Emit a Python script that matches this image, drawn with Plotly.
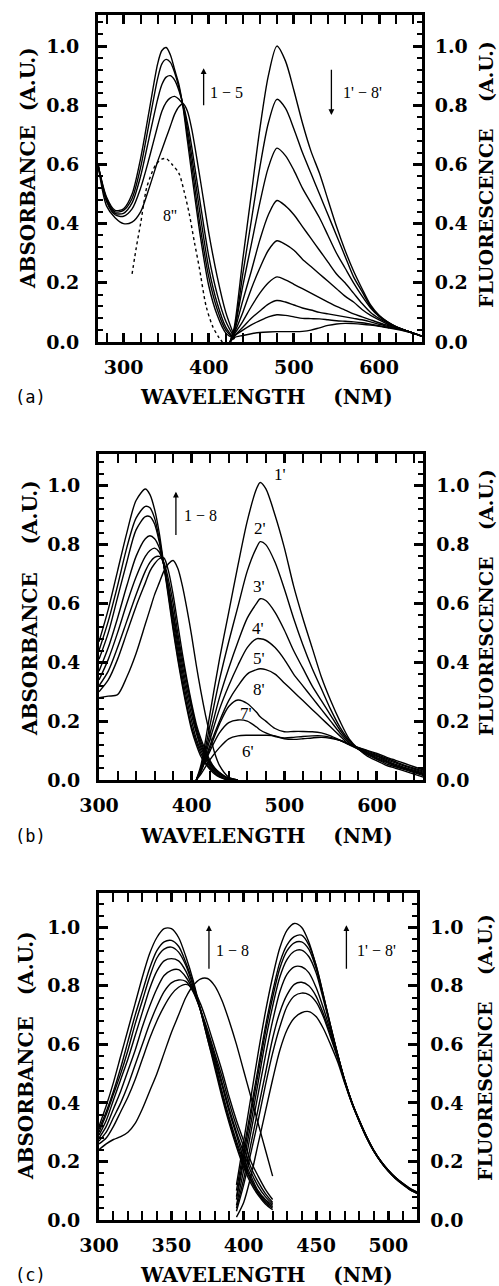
import plotly.graph_objects as go

W, H = 499, 1286

# ---------------- Panel (a) data ----------------
A_ABS_X = [270, 280, 290, 300, 310, 320, 330, 340, 345, 350, 355, 360, 365, 370, 375, 380, 390, 400, 410, 420, 430]
A_ABS_1 = [0.60, 0.49, 0.445, 0.45, 0.50, 0.62, 0.78, 0.94, 0.985, 0.995, 0.97, 0.92, 0.87, 0.79, 0.68, 0.57, 0.36, 0.19, 0.09, 0.03, 0.01]
A_ABS_2 = [0.60, 0.485, 0.44, 0.445, 0.485, 0.59, 0.74, 0.89, 0.94, 0.955, 0.945, 0.91, 0.86, 0.795, 0.70, 0.60, 0.39, 0.22, 0.11, 0.04, 0.01]
A_ABS_3 = [0.60, 0.48, 0.435, 0.435, 0.47, 0.56, 0.69, 0.82, 0.87, 0.895, 0.90, 0.885, 0.85, 0.80, 0.72, 0.63, 0.43, 0.25, 0.13, 0.05, 0.01]
A_ABS_4 = [0.60, 0.475, 0.43, 0.425, 0.45, 0.52, 0.62, 0.73, 0.78, 0.81, 0.825, 0.83, 0.82, 0.80, 0.74, 0.66, 0.47, 0.29, 0.16, 0.07, 0.015]
A_ABS_5 = [0.60, 0.46, 0.42, 0.40, 0.405, 0.44, 0.52, 0.61, 0.65, 0.69, 0.73, 0.77, 0.795, 0.805, 0.78, 0.72, 0.55, 0.37, 0.22, 0.10, 0.02]
A_DOT_X = [310, 315, 320, 327, 333, 338, 345, 350, 357, 365, 371, 377, 383, 389, 397, 405, 412, 416]
A_DOT_Y = [0.23, 0.32, 0.40, 0.52, 0.57, 0.60, 0.618, 0.62, 0.60, 0.57, 0.51, 0.435, 0.34, 0.25, 0.12, 0.05, 0.015, 0.0]

A_FL_X = [425, 430, 440, 450, 460, 470, 480, 490, 500, 510, 520, 530, 540, 550, 560, 570, 580, 590, 600, 610, 620, 630, 640, 650]
A_FL_1 = [0.0, 0.05, 0.28, 0.50, 0.72, 0.90, 1.0, 0.95, 0.85, 0.74, 0.645, 0.57, 0.48, 0.39, 0.31, 0.24, 0.18, 0.125, 0.09, 0.068, 0.052, 0.04, 0.03, 0.02]
A_FL_2 = [0.0, 0.04, 0.23, 0.41, 0.59, 0.74, 0.82, 0.79, 0.72, 0.64, 0.57, 0.50, 0.43, 0.36, 0.29, 0.22, 0.17, 0.12, 0.088, 0.067, 0.051, 0.04, 0.03, 0.02]
A_FL_3 = [0.0, 0.04, 0.19, 0.33, 0.47, 0.59, 0.655, 0.63, 0.58, 0.52, 0.47, 0.42, 0.36, 0.30, 0.25, 0.20, 0.155, 0.115, 0.086, 0.066, 0.051, 0.04, 0.03, 0.02]
A_FL_4 = [0.0, 0.035, 0.14, 0.24, 0.345, 0.43, 0.478, 0.46, 0.43, 0.39, 0.35, 0.31, 0.27, 0.23, 0.20, 0.165, 0.13, 0.10, 0.08, 0.064, 0.051, 0.04, 0.03, 0.02]
A_FL_5 = [0.0, 0.03, 0.10, 0.18, 0.25, 0.31, 0.342, 0.33, 0.31, 0.28, 0.255, 0.23, 0.205, 0.18, 0.155, 0.135, 0.11, 0.09, 0.075, 0.06, 0.05, 0.04, 0.03, 0.02]
A_FL_6 = [0.0, 0.025, 0.07, 0.12, 0.165, 0.20, 0.22, 0.21, 0.195, 0.18, 0.165, 0.15, 0.135, 0.12, 0.108, 0.095, 0.085, 0.075, 0.065, 0.056, 0.048, 0.04, 0.03, 0.02]
A_FL_7 = [0.0, 0.02, 0.05, 0.08, 0.105, 0.128, 0.14, 0.135, 0.125, 0.115, 0.108, 0.10, 0.095, 0.09, 0.085, 0.08, 0.075, 0.068, 0.06, 0.053, 0.046, 0.04, 0.03, 0.02]
A_FL_8 = [0.0, 0.02, 0.04, 0.058, 0.072, 0.085, 0.092, 0.09, 0.085, 0.08, 0.079, 0.078, 0.075, 0.072, 0.07, 0.068, 0.065, 0.06, 0.055, 0.05, 0.045, 0.038, 0.03, 0.02]
A_FL_9 = [0.0, 0.015, 0.022, 0.028, 0.032, 0.034, 0.035, 0.035, 0.035, 0.036, 0.04, 0.048, 0.056, 0.061, 0.063, 0.062, 0.06, 0.057, 0.053, 0.048, 0.043, 0.037, 0.03, 0.02]

# ---------------- Panel (b) data ----------------
B_ABS_X = [300, 310, 320, 330, 340, 350, 355, 360, 365, 370, 375, 380, 385, 390, 395, 400, 405, 410, 415, 420, 425, 430, 440, 450]
B_ABS_1 = [0.47, 0.58, 0.71, 0.84, 0.95, 0.989, 0.97, 0.92, 0.84, 0.73, 0.62, 0.51, 0.41, 0.32, 0.24, 0.17, 0.12, 0.08, 0.055, 0.035, 0.02, 0.01, 0.0, 0.0]
B_ABS_2 = [0.44, 0.54, 0.66, 0.79, 0.89, 0.93, 0.925, 0.89, 0.82, 0.73, 0.63, 0.52, 0.42, 0.33, 0.25, 0.18, 0.13, 0.09, 0.06, 0.04, 0.025, 0.012, 0.0, 0.0]
B_ABS_3 = [0.41, 0.50, 0.62, 0.74, 0.85, 0.895, 0.895, 0.87, 0.81, 0.73, 0.64, 0.54, 0.44, 0.35, 0.27, 0.20, 0.14, 0.10, 0.07, 0.045, 0.03, 0.015, 0.0, 0.0]
B_ABS_4 = [0.37, 0.45, 0.55, 0.66, 0.76, 0.82, 0.83, 0.82, 0.79, 0.73, 0.65, 0.56, 0.46, 0.37, 0.29, 0.22, 0.16, 0.11, 0.08, 0.05, 0.035, 0.02, 0.005, 0.0]
B_ABS_5 = [0.34, 0.41, 0.50, 0.60, 0.69, 0.76, 0.78, 0.788, 0.775, 0.73, 0.66, 0.57, 0.48, 0.39, 0.31, 0.24, 0.17, 0.12, 0.085, 0.055, 0.035, 0.02, 0.005, 0.0]
B_ABS_6 = [0.32, 0.37, 0.45, 0.54, 0.63, 0.71, 0.74, 0.757, 0.76, 0.74, 0.68, 0.60, 0.50, 0.41, 0.33, 0.25, 0.18, 0.13, 0.09, 0.06, 0.04, 0.025, 0.005, 0.0]
B_ABS_7 = [0.30, 0.34, 0.41, 0.50, 0.59, 0.67, 0.71, 0.735, 0.752, 0.755, 0.71, 0.63, 0.53, 0.43, 0.34, 0.26, 0.19, 0.14, 0.10, 0.065, 0.04, 0.025, 0.005, 0.0]
B_ABS_8 = [0.28, 0.285, 0.29, 0.35, 0.43, 0.53, 0.58, 0.63, 0.67, 0.71, 0.735, 0.746, 0.72, 0.66, 0.58, 0.49, 0.39, 0.30, 0.22, 0.15, 0.09, 0.05, 0.01, 0.0]

B_FL_X = [405, 410, 420, 430, 440, 450, 460, 470, 474, 480, 490, 500, 510, 520, 530, 540, 550, 560, 570, 580, 590, 600, 610, 620, 630, 640, 650]
B_FL_1 = [0.0, 0.05, 0.23, 0.41, 0.57, 0.73, 0.88, 0.99, 1.011, 0.99, 0.90, 0.79, 0.66, 0.55, 0.45, 0.35, 0.27, 0.20, 0.14, 0.105, 0.08, 0.065, 0.05, 0.04, 0.03, 0.02, 0.01]
B_FL_2 = [0.0, 0.04, 0.19, 0.34, 0.47, 0.59, 0.71, 0.79, 0.81, 0.80, 0.74, 0.65, 0.55, 0.46, 0.38, 0.31, 0.24, 0.18, 0.135, 0.105, 0.085, 0.07, 0.055, 0.045, 0.035, 0.025, 0.015]
B_FL_3 = [0.0, 0.04, 0.16, 0.28, 0.38, 0.47, 0.55, 0.60, 0.616, 0.61, 0.57, 0.51, 0.44, 0.38, 0.32, 0.27, 0.22, 0.17, 0.13, 0.105, 0.088, 0.073, 0.06, 0.048, 0.038, 0.028, 0.018]
B_FL_4 = [0.0, 0.035, 0.14, 0.24, 0.32, 0.39, 0.45, 0.48, 0.48, 0.475, 0.45, 0.41, 0.36, 0.32, 0.28, 0.24, 0.20, 0.16, 0.125, 0.105, 0.09, 0.076, 0.063, 0.05, 0.04, 0.03, 0.02]
B_FL_5 = [0.0, 0.03, 0.12, 0.20, 0.27, 0.32, 0.36, 0.375, 0.378, 0.375, 0.36, 0.33, 0.30, 0.27, 0.24, 0.21, 0.18, 0.15, 0.12, 0.105, 0.092, 0.08, 0.066, 0.053, 0.043, 0.033, 0.023]
B_FL_6 = [0.0, 0.02, 0.07, 0.11, 0.14, 0.15, 0.152, 0.152, 0.152, 0.152, 0.15, 0.14, 0.138, 0.14, 0.143, 0.145, 0.142, 0.135, 0.122, 0.11, 0.10, 0.09, 0.078, 0.067, 0.056, 0.045, 0.034]
B_FL_7 = [0.0, 0.03, 0.10, 0.16, 0.195, 0.204, 0.20, 0.18, 0.17, 0.16, 0.148, 0.143, 0.145, 0.148, 0.15, 0.15, 0.145, 0.135, 0.122, 0.11, 0.098, 0.086, 0.074, 0.062, 0.05, 0.04, 0.03]
B_FL_8 = [0.0, 0.03, 0.11, 0.19, 0.25, 0.272, 0.26, 0.23, 0.215, 0.20, 0.175, 0.164, 0.165, 0.165, 0.164, 0.16, 0.15, 0.135, 0.12, 0.108, 0.095, 0.083, 0.07, 0.058, 0.047, 0.037, 0.027]
B_FL_LABELS = ["1'", "2'", "3'", "4'", "5'", "8'", "7'", "6'"]
B_FL_LABEL_X = [495, 474, 473, 471.5, 473, 473, 459, 461]
B_FL_LABEL_Y = [1.037, 0.856, 0.657, 0.516, 0.414, 0.306, 0.227, 0.096]

# ---------------- Panel (c) data ----------------
C_ABS_X = [300, 305, 310, 315, 320, 325, 330, 335, 340, 345, 350, 355, 360, 365, 370, 375, 380, 385, 390, 395, 400, 405, 410, 415, 420]
C_ABS_1 = [0.32, 0.39, 0.47, 0.56, 0.65, 0.74, 0.83, 0.91, 0.965, 0.995, 0.995, 0.965, 0.90, 0.82, 0.72, 0.62, 0.52, 0.42, 0.33, 0.25, 0.18, 0.125, 0.085, 0.055, 0.035]
C_ABS_2 = [0.31, 0.37, 0.44, 0.52, 0.61, 0.70, 0.78, 0.86, 0.92, 0.95, 0.955, 0.935, 0.88, 0.81, 0.72, 0.62, 0.53, 0.43, 0.34, 0.26, 0.19, 0.135, 0.09, 0.06, 0.04]
C_ABS_3 = [0.30, 0.36, 0.43, 0.50, 0.58, 0.67, 0.75, 0.83, 0.895, 0.925, 0.932, 0.915, 0.87, 0.80, 0.72, 0.63, 0.54, 0.44, 0.35, 0.27, 0.20, 0.14, 0.095, 0.065, 0.045]
C_ABS_4 = [0.29, 0.34, 0.41, 0.48, 0.55, 0.63, 0.71, 0.79, 0.85, 0.885, 0.893, 0.885, 0.85, 0.79, 0.72, 0.63, 0.55, 0.46, 0.37, 0.29, 0.21, 0.15, 0.10, 0.07, 0.05]
C_ABS_5 = [0.28, 0.32, 0.38, 0.44, 0.51, 0.58, 0.66, 0.73, 0.79, 0.835, 0.853, 0.855, 0.83, 0.785, 0.72, 0.64, 0.56, 0.47, 0.38, 0.30, 0.23, 0.165, 0.115, 0.08, 0.055]
C_ABS_6 = [0.27, 0.30, 0.35, 0.40, 0.46, 0.53, 0.60, 0.67, 0.73, 0.78, 0.81, 0.82, 0.815, 0.78, 0.72, 0.65, 0.57, 0.49, 0.40, 0.32, 0.25, 0.18, 0.13, 0.09, 0.06]
C_ABS_7 = [0.26, 0.28, 0.32, 0.37, 0.42, 0.48, 0.55, 0.62, 0.68, 0.73, 0.77, 0.795, 0.805, 0.79, 0.74, 0.67, 0.59, 0.51, 0.42, 0.34, 0.27, 0.20, 0.15, 0.105, 0.07]
C_ABS_8 = [0.24, 0.26, 0.275, 0.285, 0.30, 0.33, 0.38, 0.44, 0.50, 0.57, 0.64, 0.70, 0.76, 0.80, 0.823, 0.825, 0.80, 0.75, 0.68, 0.60, 0.51, 0.42, 0.33, 0.24, 0.15]

C_FL_X = [395, 400, 405, 410, 415, 420, 425, 430, 435, 440, 445, 450, 455, 460, 465, 470, 475, 480, 485, 490, 495, 500, 505, 510, 515, 520]
C_FL_1 = [0.12, 0.27, 0.42, 0.57, 0.71, 0.83, 0.93, 0.99, 1.013, 1.0, 0.95, 0.87, 0.77, 0.66, 0.565, 0.475, 0.40, 0.34, 0.285, 0.238, 0.20, 0.17, 0.145, 0.125, 0.108, 0.095]
C_FL_2 = [0.10, 0.24, 0.38, 0.52, 0.66, 0.78, 0.88, 0.94, 0.968, 0.973, 0.94, 0.87, 0.77, 0.665, 0.565, 0.475, 0.40, 0.34, 0.285, 0.237, 0.20, 0.17, 0.145, 0.125, 0.107, 0.094]
C_FL_3 = [0.08, 0.22, 0.36, 0.50, 0.64, 0.76, 0.86, 0.92, 0.947, 0.95, 0.925, 0.86, 0.765, 0.665, 0.565, 0.474, 0.40, 0.338, 0.283, 0.236, 0.199, 0.169, 0.144, 0.124, 0.106, 0.093]
C_FL_4 = [0.07, 0.20, 0.33, 0.47, 0.61, 0.73, 0.83, 0.89, 0.918, 0.922, 0.90, 0.845, 0.755, 0.66, 0.562, 0.473, 0.399, 0.338, 0.283, 0.236, 0.199, 0.168, 0.143, 0.123, 0.105, 0.092]
C_FL_5 = [0.05, 0.17, 0.30, 0.43, 0.56, 0.68, 0.78, 0.84, 0.865, 0.865, 0.845, 0.795, 0.725, 0.645, 0.56, 0.472, 0.398, 0.337, 0.282, 0.235, 0.198, 0.168, 0.143, 0.123, 0.105, 0.092]
C_FL_6 = [0.04, 0.14, 0.26, 0.38, 0.50, 0.62, 0.71, 0.77, 0.805, 0.812, 0.80, 0.765, 0.705, 0.635, 0.556, 0.47, 0.397, 0.336, 0.281, 0.235, 0.198, 0.167, 0.142, 0.122, 0.104, 0.091]
C_FL_7 = [0.03, 0.12, 0.23, 0.34, 0.46, 0.57, 0.66, 0.73, 0.765, 0.775, 0.77, 0.745, 0.695, 0.625, 0.552, 0.468, 0.396, 0.336, 0.281, 0.234, 0.197, 0.167, 0.142, 0.122, 0.104, 0.091]
C_FL_8 = [0.01, 0.06, 0.15, 0.26, 0.37, 0.48, 0.58, 0.65, 0.69, 0.708, 0.712, 0.695, 0.655, 0.60, 0.54, 0.465, 0.395, 0.335, 0.28, 0.234, 0.197, 0.166, 0.141, 0.121, 0.103, 0.09]

# ---------------- Figure ----------------
fig = go.Figure()
LW = 1.4


def line(x, y, xa, ya, dash="solid"):
    fig.add_trace(go.Scatter(x=x, y=y, mode="lines", xaxis=xa, yaxis=ya,
                             line=dict(color="black", width=LW, shape="spline",
                                       smoothing=0.8, dash=dash),
                             showlegend=False, hoverinfo="skip"))


for ys in [A_ABS_1, A_ABS_2, A_ABS_3, A_ABS_4, A_ABS_5]:
    line(A_ABS_X, ys, "x", "y")
line(A_DOT_X, A_DOT_Y, "x", "y", dash="dot")
for ys in [A_FL_1, A_FL_2, A_FL_3, A_FL_4, A_FL_5, A_FL_6, A_FL_7, A_FL_8, A_FL_9]:
    line(A_FL_X, ys, "x", "y2")

for ys in [B_ABS_1, B_ABS_2, B_ABS_3, B_ABS_4, B_ABS_5, B_ABS_6, B_ABS_7, B_ABS_8]:
    line(B_ABS_X, ys, "x2", "y3")
for ys in [B_FL_1, B_FL_2, B_FL_3, B_FL_4, B_FL_5, B_FL_6, B_FL_7, B_FL_8]:
    line(B_FL_X, ys, "x2", "y4")

for ys in [C_ABS_1, C_ABS_2, C_ABS_3, C_ABS_4, C_ABS_5, C_ABS_6, C_ABS_7, C_ABS_8]:
    line(C_ABS_X, ys, "x3", "y5")
for ys in [C_FL_1, C_FL_2, C_FL_3, C_FL_4, C_FL_5, C_FL_6, C_FL_7, C_FL_8]:
    line(C_FL_X, ys, "x3", "y6")

TICKFONT = dict(family="DejaVu Serif", size=19, color="black", weight="bold")
TITLEFONT = dict(family="DejaVu Serif", size=20, color="black", weight="bold")
RTITLEFONT = dict(family="DejaVu Serif", size=19, color="black", weight="bold")


def xdom(l, r):
    return [l / W, r / W]


def ydom(t, b):
    return [1 - b / H, 1 - t / H]


def xaxis(dom, rng, dtick, mdtick, anchor):
    return dict(domain=dom, range=rng, anchor=anchor, tick0=300, dtick=dtick,
                automargin=False,
                showline=True, linewidth=3, linecolor="black", mirror="allticks",
                ticks="inside", ticklen=9, tickwidth=2.5, tickcolor="black",
                minor=dict(tick0=300, dtick=mdtick, ticks="inside", ticklen=5,
                           tickwidth=2, tickcolor="black", showgrid=False),
                showgrid=False, zeroline=False, tickfont=TICKFONT,
                ticklabelstandoff=6)


def yaxis(dom, top, anchor):
    return dict(domain=dom, range=[0, top], anchor=anchor, tick0=0, dtick=0.2,
                automargin=False,
                tickformat=".1f", showline=True, linewidth=3, linecolor="black",
                mirror="allticks", ticks="inside", ticklen=9, tickwidth=2.5,
                tickcolor="black",
                minor=dict(tick0=0, dtick=0.04, ticks="inside", ticklen=5,
                           tickwidth=2, tickcolor="black", showgrid=False),
                showgrid=False, zeroline=False, tickfont=TICKFONT,
                ticklabelstandoff=12)


def yaxis_r(top, anchor, over):
    return dict(range=[0, top], anchor=anchor, overlaying=over, side="right",
                automargin=False,
                tick0=0, dtick=0.2, tickformat=".1f", showline=False, ticks="",
                showgrid=False, zeroline=False, tickfont=TICKFONT,
                ticklabelstandoff=12)


fig.update_layout(
    template="none",
    width=W, height=H, margin=dict(l=0, r=0, t=0, b=0, autoexpand=False),
    paper_bgcolor="white", plot_bgcolor="white", showlegend=False,
    xaxis=xaxis(xdom(98, 421.7), [270, 650], 100, 20, "y"),
    yaxis=yaxis(ydom(15, 342), 1.105, "x"),
    yaxis2=yaxis_r(1.105, "x", "y"),
    xaxis2=xaxis(xdom(99, 423.3), [300, 650], 100, 20, "y3"),
    yaxis3=yaxis(ydom(454.3, 780), 1.107, "x2"),
    yaxis4=yaxis_r(1.107, "x2", "y3"),
    xaxis3=xaxis(xdom(99, 417.3), [300, 520], 50, 10, "y5"),
    yaxis5=yaxis(ydom(893.3, 1220), 1.116, "x3"),
    yaxis6=yaxis_r(1.116, "x3", "y5"),
)

ann = []
NB = "\u00a0"


def paper_text(text, x, y, font, angle=0):
    ann.append(dict(text=text, x=x / W, y=1 - y / H, xref="paper", yref="paper",
                    xanchor="center", yanchor="middle", showarrow=False,
                    textangle=angle, font=font))


# axis titles
for (lx, ly, rx, ry, ty, lab, nl) in [(28, 168, 486, 175, 397, "(a)", 2),
                                      (30, 608, 486, 603, 836, "(b)", 4),
                                      (26, 1056, 485, 1048, 1275, "(c)", 3)]:
    paper_text("ABSORBANCE" + NB * nl + "(A.U.)", lx, ly, TITLEFONT, -90)
    paper_text("FLUORESCENCE" + NB * 4 + "(A.U.)", rx, ry, RTITLEFONT, -90)
    paper_text("WAVELENGTH" + NB * 4 + "(NM)", 266, ty, TITLEFONT)
    paper_text(lab, 30, ty, dict(family="DejaVu Sans Mono", size=17, color="black"))


def data_text(text, x, y, xr, yr, size=16):
    ann.append(dict(text=text, x=x, y=y, xref=xr, yref=yr, showarrow=False,
                    xanchor="center", yanchor="middle",
                    font=dict(family="Liberation Serif", size=size, color="black")))


def arrow(x, y0, y1, xr, yr):
    ann.append(dict(text="", x=x, y=y1, ax=x, ay=y0, xref=xr, yref=yr,
                    axref=xr, ayref=yr, showarrow=True, arrowhead=2,
                    arrowsize=0.9, arrowwidth=1.3, arrowcolor="black"))


# panel (a)
arrow(394, 0.795, 0.925, "x", "y")
data_text("1 \u2212 5", 421, 0.842, "x", "y")
arrow(544, 0.925, 0.767, "x", "y2")
data_text("1' \u2212 8'", 581, 0.842, "x", "y2")
data_text("8''", 354, 0.429, "x", "y")

# panel (b)
arrow(383, 0.828, 0.98, "x2", "y3")
data_text("1 \u2212 8", 409, 0.90, "x2", "y3")
for t, lx, ly in zip(B_FL_LABELS, B_FL_LABEL_X, B_FL_LABEL_Y):
    data_text(t, lx, ly, "x2", "y4", size=17)

# panel (c)
arrow(376, 0.853, 1.007, "x3", "y5")
data_text("1 \u2212 8", 392, 0.922, "x3", "y5")
arrow(471, 0.853, 1.007, "x3", "y6")
data_text("1' \u2212 8'", 492, 0.922, "x3", "y6")

fig.update_layout(annotations=ann)
fig.write_html("out.html")
